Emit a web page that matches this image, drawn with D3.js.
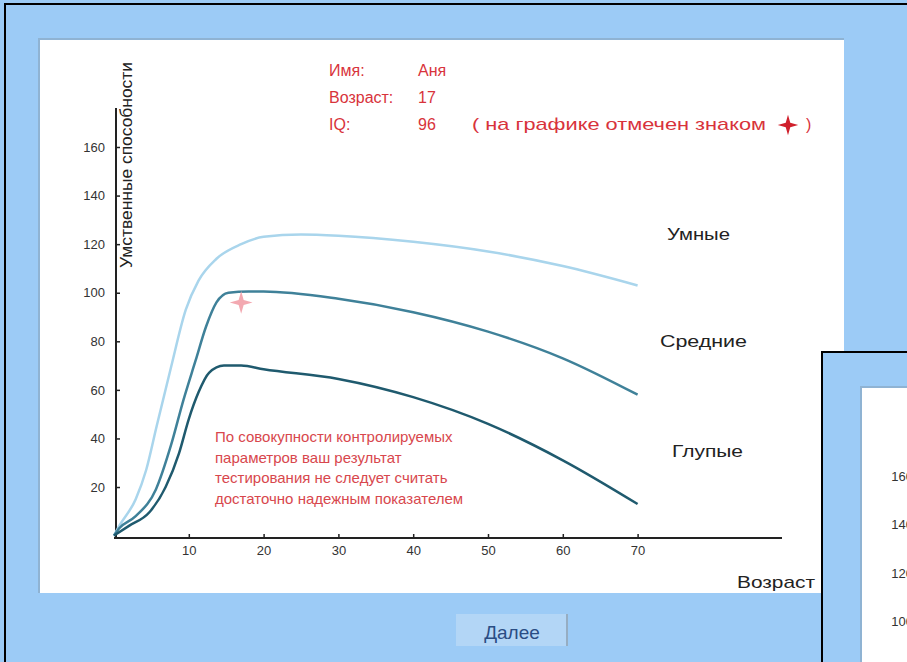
<!DOCTYPE html>
<html>
<head>
<meta charset="utf-8">
<script src="https://cdn.jsdelivr.net/npm/d3@7"></script>
<style>
	body { margin: 0; background: #9ccbf6; overflow: hidden; }
	text { font-family: Arial, "Liberation Sans", sans-serif; }
</style>
</head>
<body>
<div id="chart-area"></div>
<script>
// DATA (age, mental ability)
var smartCurve = [[0, 0], [0.7, 4], [2.9, 15], [4.3, 27], [5.7, 45], [7.6, 69], [9.6, 93], [11.3, 105],
	[13.7, 114], [17, 120], [20, 123], [25, 124], [30, 123.5], [40, 121], [50, 117], [60, 111], [70, 103]];
var middleCurve = [[0, 0], [0.7, 3], [2.9, 8], [5.6, 19], [7.6, 37], [9.3, 56], [10.9, 72], [12.3, 86],
	[13.7, 96], [15.3, 100], [18, 100.5], [20, 100.5], [30, 97.5], [40, 92], [50, 84], [60, 73], [70, 58]];
var dumbCurve = [[0, 0], [2, 4], [4.7, 9.5], [6.9, 20], [8.7, 34], [10, 48], [11.3, 59], [12.7, 67],
	[14.7, 70], [17, 70], [20, 68.5], [30, 64.5], [40, 57], [50, 46], [60, 31], [70, 13]];
var groupNames = ["Умные", "Средние", "Глупые"];
var groupLabelIQ = [124, 80, 35];
var xTicks = [10, 20, 30, 40, 50, 60, 70];
var yTicks = [20, 40, 60, 80, 100, 120, 140, 160];
var person = { name: "Аня", age: 17, iq: 96 };
var noteLines = ["По совокупности контролируемых", "параметров ваш результат",
	"тестирования не следует считать", "достаточно надежным показателем"];

var width = 907, height = 662;

var svg = d3.select("#chart-area")
	.append("svg")
	.attr("width", width)
	.attr("height", height);

// WINDOW FRAME
svg.append("rect").attr("x", 5).attr("y", 4).attr("width", 960).attr("height", 700)
	.attr("fill", "#9ccbf6").attr("stroke", "#000").attr("stroke-width", 2);
svg.append("rect").attr("x", 38).attr("y", 38).attr("width", 806).attr("height", 555)
	.attr("fill", "#8fb3d3");
svg.append("rect").attr("x", 40).attr("y", 40).attr("width", 804).attr("height", 553)
	.attr("fill", "#fff");

// SCALES
var x = d3.scaleLinear().domain([0, 70]).range([114, 637.6]);
var y = d3.scaleLinear().domain([0, 160]).range([535.6, 147]);

var g = svg.append("g");

// AXES
var xAxisCall = d3.axisBottom(x).tickValues(xTicks).tickSize(-4).tickPadding(8);
var xAxis = g.append("g").attr("transform", "translate(0,538)").call(xAxisCall);
xAxis.select(".domain").remove();
g.append("line").attr("x1", 114).attr("x2", 782).attr("y1", 538).attr("y2", 538)
	.attr("stroke", "#222").attr("stroke-width", 2);

var yAxisCall = d3.axisLeft(y).tickValues(yTicks).tickSize(-4).tickPadding(11);
var yAxis = g.append("g").attr("transform", "translate(116,0)").call(yAxisCall);
yAxis.select(".domain").remove();
g.append("line").attr("x1", 116).attr("x2", 116).attr("y1", 108).attr("y2", 539)
	.attr("stroke", "#222").attr("stroke-width", 2);

g.selectAll(".tick text").attr("font-size", "13px").attr("fill", "#333")
	.attr("font-family", "Arial, 'Liberation Sans', sans-serif");
g.selectAll(".tick line").attr("stroke", "#222").attr("stroke-width", 1.5);

// LABELS
g.append("text")
	.attr("transform", "translate(132,165) rotate(-90)")
	.attr("text-anchor", "middle")
	.attr("font-size", "17px")
	.attr("textLength", 206)
	.attr("lengthAdjust", "spacingAndGlyphs")
	.attr("fill", "#222")
	.text("Умственные способности");

g.append("text")
	.attr("x", 737).attr("y", 588)
	.attr("font-size", "17px")
	.attr("textLength", 78)
	.attr("lengthAdjust", "spacingAndGlyphs")
	.attr("fill", "#222")
	.text("Возраст");

// CURVES
var line = d3.line()
	.x(function (d) { return x(d[0]); })
	.y(function (d) { return y(d[1]); })
	.curve(d3.curveMonotoneX);

var curves = [
	{ data: smartCurve, color: "#a9d5ec" },
	{ data: middleCurve, color: "#3f8199" },
	{ data: dumbCurve, color: "#1f5a6e" }
];
g.selectAll("path.curve").data(curves).enter()
	.append("path")
	.attr("class", "curve")
	.attr("fill", "none")
	.attr("stroke", function (d) { return d.color; })
	.attr("stroke-width", 2.5)
	.attr("d", function (d) { return line(d.data); });

var labelX = [667, 660, 672], labelW = [63, 87, 71];
g.selectAll("text.group").data(groupNames).enter()
	.append("text")
	.attr("class", "group")
	.attr("x", function (d, i) { return labelX[i]; })
	.attr("y", function (d, i) { return y(groupLabelIQ[i]) + 6; })
	.attr("font-size", "17px")
	.attr("textLength", function (d, i) { return labelW[i]; })
	.attr("lengthAdjust", "spacingAndGlyphs")
	.attr("fill", "#222")
	.text(function (d) { return d; });

// 4 POINT STAR
var star4 = {
	draw: function (context, size) {
		var r = Math.sqrt(size) / 2, k = r * 0.22;
		context.moveTo(0, -r);
		context.lineTo(k, -k);
		context.lineTo(r, 0);
		context.lineTo(k, k);
		context.lineTo(0, r);
		context.lineTo(-k, k);
		context.lineTo(-r, 0);
		context.lineTo(-k, -k);
		context.closePath();
	}
};

g.append("path")
	.attr("transform", "translate(" + x(person.age) + "," + y(person.iq) + ")")
	.attr("d", d3.symbol().type(star4).size(520))
	.attr("fill", "#f3a9b1");

// HEADER
var red = "#d8333b";
var header = [["Имя:", person.name], ["Возраст:", person.age], ["IQ:", person.iq]];
header.forEach(function (row, i) {
	g.append("text").attr("x", 329).attr("y", 76 + i * 27)
		.attr("font-size", "16px").attr("fill", red).text(row[0]);
	g.append("text").attr("x", 418).attr("y", 76 + i * 27)
		.attr("font-size", "16px").attr("fill", red).text(row[1]);
});
g.append("text").attr("x", 472).attr("y", 130)
	.attr("font-size", "17px")
	.attr("textLength", 294)
	.attr("lengthAdjust", "spacingAndGlyphs")
	.attr("fill", red).text("( на графике отмечен знаком");
g.append("path")
	.attr("transform", "translate(788,125)")
	.attr("d", d3.symbol().type(star4).size(420))
	.attr("fill", "#d0202c");
g.append("text").attr("x", 806).attr("y", 130)
	.attr("font-size", "16px").attr("fill", red).text(")");

// NOTE
g.selectAll("text.note").data(noteLines).enter()
	.append("text")
	.attr("class", "note")
	.attr("x", 215)
	.attr("y", function (d, i) { return 442 + i * 20.5; })
	.attr("font-size", "15px")
	.attr("fill", "#d8474d")
	.text(function (d) { return d; });

// BUTTON
svg.append("rect").attr("x", 456).attr("y", 614).attr("width", 112).attr("height", 32)
	.attr("fill", "#b3d6f6");
svg.append("line").attr("x1", 567).attr("x2", 567).attr("y1", 614).attr("y2", 646)
	.attr("stroke", "#8c9fb0").attr("stroke-width", 1.5);
svg.append("text").attr("x", 512).attr("y", 639)
	.attr("text-anchor", "middle").attr("font-size", "19px").attr("fill", "#2a4d84")
	.text("Далее");

// SECOND WINDOW (overlapping, bottom right)
var w2 = svg.append("g");
w2.append("rect").attr("x", 822).attr("y", 352).attr("width", 200).attr("height", 400)
	.attr("fill", "#9ccbf6").attr("stroke", "#000").attr("stroke-width", 2);
w2.append("rect").attr("x", 860).attr("y", 386).attr("width", 200).attr("height", 400)
	.attr("fill", "#8fb3d3");
w2.append("rect").attr("x", 862).attr("y", 388).attr("width", 200).attr("height", 400)
	.attr("fill", "#fff");
var y2Axis = w2.append("g").attr("transform", "translate(921,329)")
	.call(d3.axisLeft(y).tickValues(yTicks).tickSize(-4).tickPadding(8));
y2Axis.select(".domain").remove();
y2Axis.selectAll(".tick text").attr("font-size", "13px").attr("fill", "#333");
</script>
</body>
</html>
